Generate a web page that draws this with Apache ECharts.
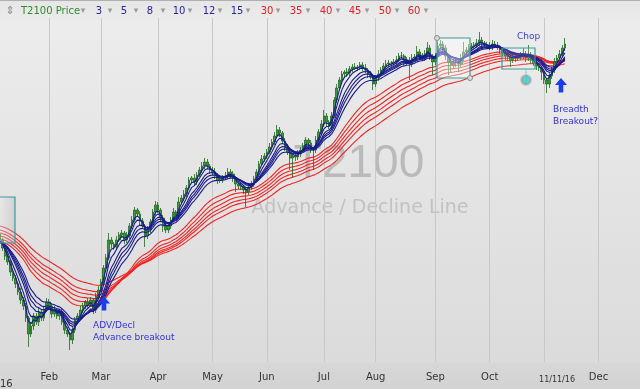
<!DOCTYPE html>
<html><head><meta charset="utf-8">
<script src="https://cdn.jsdelivr.net/npm/echarts/dist/echarts.min.js"></script>
<style>html,body{margin:0;padding:0;background:#e2e2e2}#c{width:640px;height:389px}</style>
</head><body><div id="c"></div>
<script>
// ---- data (A/D line, arbitrary units) ----
const firstOpen = 166;
const closeVals = [160,152,144,138,128,122,116,108,100,94,
82,66,74,84,78,88,82,90,98,94,
86,90,84,88,78,70,66,60,70,80,
84,90,94,98,96,100,90,104,110,118,
132,142,160,156,153,160,165,167,160,164,
174,180,190,186,179,174,164,170,178,188,
195,190,182,174,170,174,180,188,184,198,
202,206,212,220,222,218,225,230,234,238,
234,230,228,224,220,220,222,224,228,226,
222,216,214,213,210,208,213,215,221,228,
236,241,244,248,253,258,264,270,267,259,
252,248,242,244,243,246,250,254,260,257,
250,250,260,268,276,284,278,274,284,300,
312,320,326,328,327,331,333,332,333,335,
332,330,326,324,316,322,326,330,334,336,
337,337,338,340,344,344,338,340,336,342,
343,348,345,342,346,352,344,338,344,354,
356,352,344,338,335,337,338,336,342,348,
350,352,354,355,357,360,357,355,354,353,
356,355,353,350,347,344,343,340,343,342,
343,344,346,342,345,340,337,334,332,328,
320,316,324,330,338,342,346,352,356];
const wickHigh = [3,2,3,4,2,3,3,2,4,3,
3,2,4,3,3,4,2,3,4,3,
3,4,2,3,3,2,3,2,4,3,
3,4,3,2,4,3,2,3,4,3,
3,4,7,3,2,4,3,3,2,4,
3,4,3,2,3,3,2,4,3,3,
4,3,2,3,3,4,3,4,2,5,
3,4,3,3,2,4,3,3,4,4,
3,2,3,4,3,2,3,4,4,3,
3,2,3,4,2,3,3,4,3,3,
3,4,3,3,4,3,4,5,3,2,
3,4,2,3,3,4,3,3,3,2,
3,3,4,3,4,6,3,2,4,3,
4,3,3,2,4,3,3,4,2,3,
3,4,2,3,2,3,4,3,3,4,
3,2,3,4,3,4,2,3,3,4,
3,6,3,2,4,6,3,2,3,4,
4,3,3,2,3,4,3,2,4,10,
3,4,3,3,4,8,3,2,3,4,
4,3,3,2,3,3,4,2,3,3,
3,4,6,3,10,3,2,3,3,2,
3,2,4,3,4,3,4,3,6];
const wickLow = [3,3,4,3,4,3,4,3,4,4,
4,13,3,4,3,4,3,3,2,3,
4,3,3,4,3,4,3,10,4,3,
3,2,3,3,4,3,4,3,3,2,
3,3,2,4,3,3,2,3,4,3,
3,3,2,3,4,3,11,3,3,2,
3,3,4,6,3,3,3,2,3,3,
2,3,3,2,3,4,3,2,3,3,
3,4,3,3,4,3,3,2,3,4,
4,8,3,3,4,15,3,3,2,3,
3,2,3,3,2,3,3,2,4,3,
3,3,12,19,4,3,3,2,3,4,
3,20,3,2,3,3,4,3,3,2,
3,3,2,3,4,3,3,2,3,3,
3,3,4,3,6,3,3,2,3,3,
3,4,3,3,2,3,4,3,16,3,
3,3,4,3,3,3,4,13,3,3,
3,3,4,13,7,3,4,8,3,3,
3,2,3,3,3,3,4,3,3,3,
3,3,3,4,3,4,3,7,3,4,
3,3,3,4,3,4,3,4,3,8,
4,9,4,3,3,3,3,3,3];
const bluePeriods = [3,5,8,10,12,15];
const redPeriods = [30,35,40,45,50,60];
const blueStart = [159,159,159,158,158,157];
const redStart = [158,161,164,167,170,174];
const monthTickIndex = [19,39,61,82,103,125,145,168,189,210,231];
const monthTickLabel = ['Feb','Mar','Apr','May','Jun','Jul','Aug','Sep','Oct','','Dec'];
const axisCount = 248;

// ---- build ----
const cats = Array.from({length: axisCount}, (_, i) => String(i));
const tickSet = new Set(monthTickIndex);
const labelByIdx = {};
monthTickIndex.forEach((t, k) => labelByIdx[t] = monthTickLabel[k]);

const candles = closeVals.map((c, i) => {
  const o = i === 0 ? firstOpen : closeVals[i - 1];
  return [o, c, Math.min(o, c) - wickLow[i], Math.max(o, c) + wickHigh[i]];
});
function ema(period, seed) {
  const a = 2 / (period + 1);
  const out = [seed];
  for (let i = 1; i < closeVals.length; i++) out.push(+(out[i - 1] + a * (closeVals[i] - out[i - 1])).toFixed(2));
  return out;
}
const series = [];
redPeriods.forEach((p, k) => series.push({
  name: String(p), type: 'line', data: ema(p, redStart[k]), symbol: 'none', z: 3,
  lineStyle: {color: '#f52424', width: 1.1}
}));
series.push({
  name: 'T2100 Price', type: 'candlestick', data: candles, barWidth: 2.2, z: 4,
  itemStyle: {color: '#3c9a3c', color0: '#3c9a3c', borderColor: '#1d6a1d', borderColor0: '#1d6a1d', borderWidth: 0.8}
});
bluePeriods.forEach((p, k) => series.push({
  name: String(p), type: 'line', data: ema(p, blueStart[k]), symbol: 'none', z: 5,
  lineStyle: {color: '#1a1a8e', width: 1.1}
}));

const F = '"DejaVu Sans"';
const txt = (text, x, y, fill, font, align, z) => ({type: 'text', z: z === undefined ? 50 : z,
  style: {text, x, y, fill, font, textAlign: align || 'left', textVerticalAlign: 'middle'}});

const legend = [];
legend.push(txt('⇕', 10, 11, '#8a8a8a', '11px ' + F, 'center'));
legend.push(txt('T2100 Price', 21, 11, '#2e8b2e', '10px ' + F, 'left'));
const legNum = ['3','5','8','10','12','15','30','35','40','45','50','60'];
const legNumX = [99,124,150,179,209,237,267,296,326,355,385,414];
const legArrX = [83,110,136,163,190,220,248,278,308,338,367,397,426];
legNum.forEach((t, k) => legend.push(txt(t, legNumX[k], 11, k < 6 ? '#2424a8' : '#e82222', '10px ' + F, 'center')));
legArrX.forEach(x => legend.push(txt('▾', x, 11, '#9a9a9a', '9px ' + F, 'center')));

const teal = '#3a9c9c';
const annot = [
  {type: 'rect', z: 60, shape: {x: -3, y: 197, width: 18, height: 46},
    style: {fill: {type: 'linear', x: 0, y: 0, x2: 1, y2: 0, colorStops: [{offset: 0, color: 'rgba(255,255,255,0.35)'}, {offset: 1, color: 'rgba(170,170,170,0.35)'}]}, stroke: teal, lineWidth: 1.2}},
  {type: 'rect', z: 60, shape: {x: 437, y: 38, width: 33, height: 40},
    style: {fill: 'rgba(255,255,255,0.4)', stroke: teal, lineWidth: 1.2}},
  {type: 'circle', z: 61, shape: {cx: 437, cy: 38, r: 2.5}, style: {fill: '#dcdcdc', stroke: '#8a8a8a', lineWidth: 1}},
  {type: 'circle', z: 61, shape: {cx: 470, cy: 78, r: 2.5}, style: {fill: '#dcdcdc', stroke: '#8a8a8a', lineWidth: 1}},
  {type: 'rect', z: 60, shape: {x: 502, y: 48, width: 33, height: 21},
    style: {fill: 'rgba(255,255,255,0.12)', stroke: teal, lineWidth: 1.2}},
  {type: 'line', z: 60, shape: {x1: 526, y1: 69, x2: 526, y2: 75}, style: {stroke: '#55dede', lineWidth: 1}},
  {type: 'circle', z: 61, shape: {cx: 526, cy: 80, r: 5.5}, style: {fill: '#a2a2a2', stroke: '#cfcfcf', lineWidth: 1.2}},
  txt('N', 526, 80.5, '#30e6e6', 'bold 8px ' + F, 'center', 62),
  {type: 'polygon', z: 60, shape: {points: [[104,296.5],[110,303.5],[106.3,303.5],[106.3,310.5],[101.7,310.5],[101.7,303.5],[98,303.5]]}, style: {fill: '#1b3df0'}},
  {type: 'polygon', z: 60, shape: {points: [[561,78],[567,85],[563.3,85],[563.3,92.5],[558.7,92.5],[558.7,85],[555,85]]}, style: {fill: '#1b3df0'}},
  txt('ADV/Decl', 93, 326, '#3030e0', '9px ' + F),
  txt('Advance breakout', 93, 338, '#3030e0', '9px ' + F),
  txt('Chop', 517, 37, '#3a3ae8', '9px ' + F),
  txt('Breadth', 553, 110, '#3030e0', '9px ' + F),
  txt('Breakout?', 553, 122, '#3030e0', '9px ' + F),
  txt('11/11/16', 557, 380, '#333333', '8px ' + F, 'center'),
  txt('2016', 0, 384, '#333333', '10px ' + F, 'center')
];
const watermark = [
  {type: 'text', z: 0, style: {text: 'T2100', x: 359, y: 164, fill: '#bababa', font: '46px "Liberation Sans"', textAlign: 'center', textVerticalAlign: 'middle'}},
  {type: 'text', z: 0, style: {text: 'Advance / Decline Line', x: 360, y: 208, fill: '#c2c2c2', font: '19px ' + F, textAlign: 'center', textVerticalAlign: 'middle'}},
  {type: 'rect', z: 0, shape: {x: 0, y: 0, width: 640, height: 1}, style: {fill: '#b0b0b0'}}
];

const chart = echarts.init(document.getElementById('c'));
chart.setOption({
  animation: false,
  backgroundColor: {type: 'linear', x: 0, y: 0, x2: 0, y2: 1, colorStops: [
    {offset: 0, color: '#e6e6e6'}, {offset: 0.06, color: '#ececec'}, {offset: 0.93, color: '#dbdbdb'},
    {offset: 0.935, color: '#d7d7d7'}, {offset: 1, color: '#d3d3d3'}]},
  grid: {left: -3, right: -1, top: 18, bottom: 27},
  xAxis: {type: 'category', data: cats, boundaryGap: false,
    axisLine: {show: false}, axisTick: {show: false},
    axisLabel: {interval: (i) => tickSet.has(i), formatter: (v, i) => labelByIdx[i] || '',
      color: '#333', fontSize: 10, fontFamily: 'DejaVu Sans', margin: 10},
    splitLine: {show: true, interval: (i) => tickSet.has(i), lineStyle: {color: '#c8c8c8', width: 1}}},
  yAxis: {type: 'value', min: 38, max: 382, show: false, splitLine: {show: false}},
  series: series,
  graphic: {elements: watermark.concat(legend, annot)}
});
</script></body></html>
